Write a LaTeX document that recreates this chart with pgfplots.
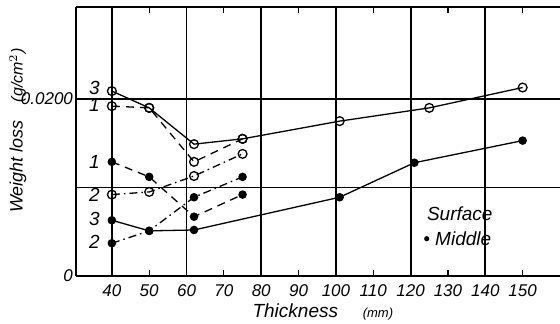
\documentclass[border=0pt]{standalone}
\usepackage{fontspec}
\setmainfont{Liberation Sans}
\usepackage{pgfplots}
\pgfplotsset{compat=1.18}
\begin{document}
\begin{tikzpicture}
\useasboundingbox (-38pt,-24pt) rectangle (242pt,138pt);
\begin{axis}[
  at={(0,0)}, anchor=south west,
  scale only axis, width=242pt, height=134.5pt,
  xmin=30.4, xmax=160, ymin=0, ymax=0.0304,
  axis x line=box, axis y line=left,
  axis line style={-, line width=1.2pt},
  xtick={40,50,...,150},
  xticklabels={40,50,60,70,80,90,100,110,120,130,140,150},
  ytick={0,0.02}, yticklabels={0,0.0200},
  extra x ticks={40,60,80,100,120,140}, extra x tick labels={},
  extra x tick style={grid=major, major grid style={black, line width=0.9pt}, major tick length=0pt},
  extra y ticks={0.01,0.02}, extra y tick labels={},
  extra y tick style={grid=major, major grid style={black, line width=0.9pt}, major tick length=0pt},
  tick align=inside, major tick length=3pt,
  tick style={black, line width=0.6pt},
  scaled y ticks=false,
  /pgf/number format/assume math mode=true,
  tick label style={font=\fontsize{8.5}{10}\selectfont\itshape},
  xticklabel style={yshift=-1pt},
  yticklabel style={xshift=2pt},
  xlabel={\itshape Thickness\hspace{1.3em}{\fontsize{6.5}{8}\selectfont(mm)}},
  xlabel style={font=\fontsize{9.5}{11}\selectfont, at={(rel axis cs:0.51,0)}, anchor=north, yshift=-10.5pt},
  ylabel={\itshape Weight loss\hspace{1em}{\fontsize{8}{9}\selectfont(g/cm$^2$)}},
  ylabel style={font=\fontsize{9}{11}\selectfont, at={(rel axis cs:-0.12,0.54)}, anchor=center},
  clip=false,
]
% Surface (open circles)
\addplot[black, line width=0.65pt, mark=o, mark size=2.2pt, mark options={solid, fill=white}]
  coordinates {(40,0.0209) (50,0.0190) (62,0.0149) (75,0.0155) (101,0.0175) (125,0.0190) (150,0.0213)};
\addplot[black, line width=0.65pt, dash pattern=on 4pt off 3pt, mark=o, mark size=2.2pt, mark options={solid, fill=white}]
  coordinates {(40,0.0192) (50,0.0190) (62,0.0129) (75,0.0155)};
\addplot[black, line width=0.65pt, dash pattern=on 4pt off 2pt on 0.8pt off 2pt, mark=o, mark size=2.2pt, mark options={solid, fill=white}]
  coordinates {(40,0.0092) (50,0.0095) (62,0.0113) (75,0.0138)};
% Middle (filled circles)
\addplot[black, line width=0.65pt, mark=*, mark size=1.8pt, mark options={solid}]
  coordinates {(40,0.0063) (50,0.0051) (62,0.0052) (101,0.0089) (121,0.0128) (150,0.0153)};
\addplot[black, line width=0.65pt, dash pattern=on 4pt off 3pt, mark=*, mark size=1.8pt, mark options={solid}]
  coordinates {(40,0.0129) (50,0.0112) (62,0.0067) (75,0.0092)};
\addplot[black, line width=0.65pt, dash pattern=on 4pt off 2pt on 0.8pt off 2pt, mark=*, mark size=1.8pt, mark options={solid}]
  coordinates {(40,0.0037) (50,0.0051) (62,0.0089) (75,0.0112)};
% series numbers
\begin{scope}[every node/.style={font=\fontsize{9.5}{11}\selectfont\itshape}]
\node at (axis cs:35.3,0.0212) {3};
\node at (axis cs:35.3,0.0193) {1};
\node at (axis cs:35.3,0.0129) {1};
\node at (axis cs:35.3,0.0092) {2};
\node at (axis cs:35.3,0.0065) {3};
\node at (axis cs:35.3,0.0039) {2};
\end{scope}
% legend text
\node[anchor=west, font=\fontsize{9.5}{11}\selectfont\itshape] at (axis cs:122.5,0.0070) {Surface};
\node[anchor=west, font=\fontsize{9.5}{11}\selectfont\itshape] at (axis cs:121.5,0.0042) {\textbullet\ Middle};
\end{axis}
\end{tikzpicture}
\end{document}
